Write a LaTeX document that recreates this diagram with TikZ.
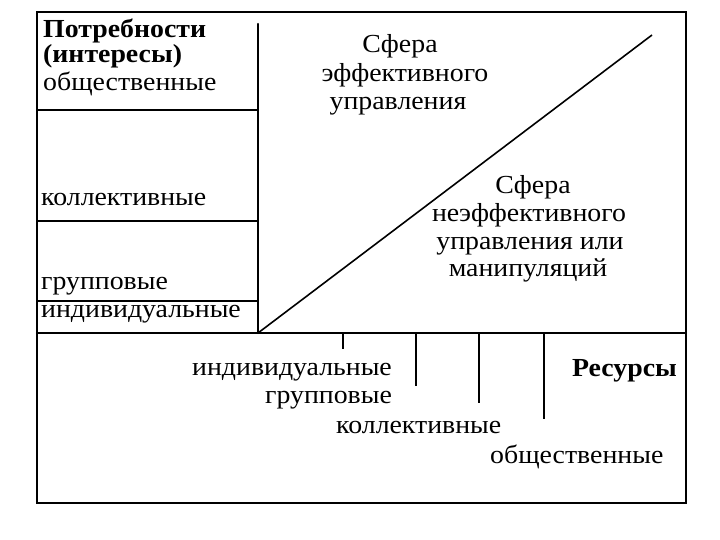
\documentclass[tikz,border=0pt]{standalone}
\usepackage{graphicx}
\usepackage{fontspec}
\setmainfont{Liberation Serif}
\newcommand{\widetxt}[1]{\scalebox{1.07}[1]{#1}}
\begin{document}
\begin{tikzpicture}[x=1pt,y=-1pt,
  frame/.style={line width=2.4pt,line cap=round},
  thin/.style={line width=1.6pt},
  tick/.style={line width=2.2pt},
  lbl/.style={inner sep=0pt,font=\fontsize{26}{30}\selectfont},
  blbl/.style={lbl,font=\fontsize{26}{30}\selectfont\bfseries}]
\useasboundingbox (0,0) rectangle (720,540);
% corners
\coordinate (TL) at (37,12);
\coordinate (TR) at (686,12);
\coordinate (BL) at (37,503);
\coordinate (BR) at (686,503);
\coordinate (ML) at (37,333);
\coordinate (MR) at (686,333);
\coordinate (C) at (258,333);
\coordinate (Ctop) at (258,24);
\coordinate (D) at (652,35);
\draw[frame] (TL) -- (TR) -- (BR) -- (BL) -- cycle;
\draw[frame] (ML) -- (MR);
\draw[frame] (Ctop) -- (C);
\coordinate (h1) at (37,110); \coordinate (h1e) at (258,110);
\coordinate (h2) at (37,221); \coordinate (h2e) at (258,221);
\coordinate (h3) at (37,301); \coordinate (h3e) at (258,301);
\draw[thin] (h1) -- (h1e);
\draw[thin] (h2) -- (h2e);
\draw[thin] (h3) -- (h3e);
\draw[thin] (C) -- (D);
% ticks
\coordinate (t1) at (343,333); \coordinate (t1e) at (343,349);
\coordinate (t2) at (416,333); \coordinate (t2e) at (416,386);
\coordinate (t3) at (479,333); \coordinate (t3e) at (479,403);
\coordinate (t4) at (544,333); \coordinate (t4e) at (544,419);
\draw[tick] (t1) -- (t1e);
\draw[tick] (t2) -- (t2e);
\draw[tick] (t3) -- (t3e);
\draw[tick] (t4) -- (t4e);
% left column texts
\node[blbl,anchor=base west] (n1) at (43,38) {\widetxt{Потребности}};
\node[blbl,anchor=base west] (n2) at (43,63) {\widetxt{(интересы)}};
\node[lbl,anchor=base west] (n3) at (43,91) {\widetxt{общественные}};
\node[lbl,anchor=base west] (n4) at (41,206) {\widetxt{коллективные}};
\node[lbl,anchor=base west] (n5) at (41,289) {\widetxt{групповые}};
\node[lbl,anchor=base west] (n6) at (41,317) {\widetxt{индивидуальные}};
% upper sphere
\node[lbl,anchor=base] (s1) at (400,53) {\widetxt{Сфера}};
\node[lbl,anchor=base] (s2) at (405,82) {\widetxt{эффективного}};
\node[lbl,anchor=base] (s3) at (398,110) {\widetxt{управления}};
% lower sphere
\node[lbl,anchor=base] (u1) at (533,194) {\widetxt{Сфера}};
\node[lbl,anchor=base] (u2) at (529,222) {\widetxt{неэффективного}};
\node[lbl,anchor=base] (u3) at (530,249) {\widetxt{управления или}};
\node[lbl,anchor=base] (u4) at (528,276) {\widetxt{манипуляций}};
% resources
\node[lbl,anchor=base west] (r1) at (192,375) {\widetxt{индивидуальные}};
\node[lbl,anchor=base west] (r2) at (265,403) {\widetxt{групповые}};
\node[lbl,anchor=base west] (r3) at (336,433) {\widetxt{коллективные}};
\node[lbl,anchor=base west] (r4) at (490,463) {\widetxt{общественные}};
\node[blbl,anchor=base east] (r5) at (677,376) {\widetxt{Ресурсы}};
\end{tikzpicture}
\end{document}
